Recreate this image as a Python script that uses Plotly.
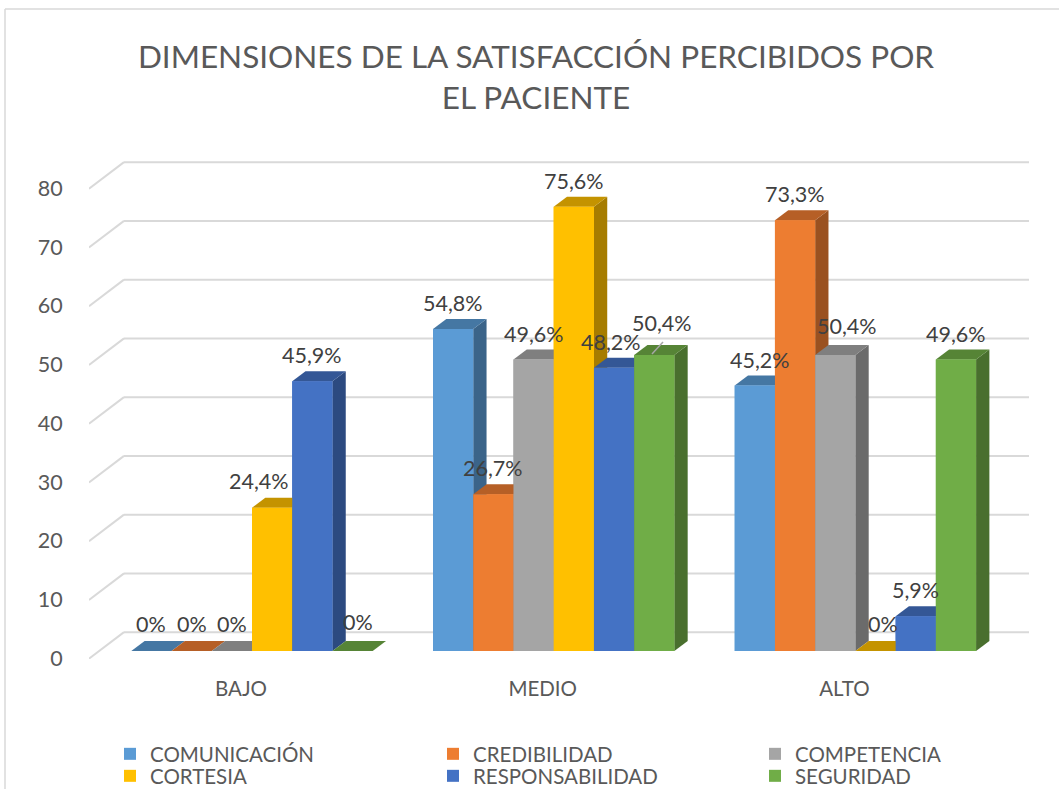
import plotly.graph_objects as go

categories = ['BAJO', 'MEDIO', 'ALTO']
series_names = ['COMUNICACIÓN', 'CREDIBILIDAD', 'COMPETENCIA', 'CORTESIA', 'RESPONSABILIDAD', 'SEGURIDAD']
comunicacion = [0, 54.8, 45.2]
credibilidad = [0, 26.7, 73.3]
competencia = [0, 49.6, 50.4]
cortesia = [24.4, 75.6, 0]
responsabilidad = [45.9, 48.2, 5.9]
seguridad = [0, 50.4, 49.6]
y_ticks = [0, 10, 20, 30, 40, 50, 60, 70, 80]

fronts = ['#5B9BD5', '#ED7D31', '#A5A5A5', '#FFC000', '#4472C4', '#70AD47']
tops = ['#4577A3', '#B65F26', '#7F7F7F', '#C49300', '#345796', '#568436']
sides = ['#3B6489', '#9A5120', '#6B6B6B', '#A67C00', '#2C4A80', '#496F2E']
series = [comunicacion, credibilidad, competencia, cortesia, responsabilidad, seguridad]

# scale of the axes, in pixels
W, H = 1059, 789
PX_X = 301.7
PX_Y = 5.875
X0_PX = 252
Y0_PX = 651
BAR_W = 0.8 / 6
DEPTH_X = 13.3 / PX_X
DEPTH_Y = 10 / PX_Y
FLOOR_X = 35 / PX_X
FLOOR_Y = 26.5 / PX_Y
FRONT_Y = -1.3


def to_x(px):
    return (px - X0_PX) / PX_X


def to_y(px):
    return (Y0_PX - px) / PX_Y


fig = go.Figure()

# one legend per entry, the rows of the original are tighter than a plotly legend
legend_ids = ['legend', 'legend2', 'legend3', 'legend4', 'legend5', 'legend6']
for name, vals, col, lg in zip(series_names, series, fronts, legend_ids):
    fig.add_trace(go.Bar(x=[0, 1, 2], y=vals, name=name, legend=lg, marker=dict(color=col, line=dict(width=0))))

# depth faces, left to right so that later bars cover earlier ones
for s, vals in enumerate(series):
    for g, v in enumerate(vals):
        left = g - 0.4 + s * BAR_W
        right = left + BAR_W
        faces = [
            ([right, right + DEPTH_X, right + DEPTH_X, right], [0, DEPTH_Y, v + DEPTH_Y, v], sides[s]),
            ([left, right, right + DEPTH_X, left + DEPTH_X], [v, v, v + DEPTH_Y, v + DEPTH_Y], tops[s]),
            ([left, right, right, left], [0, 0, v, v], fronts[s]),
        ]
        for fx, fy, col in faces:
            fig.add_trace(go.Scatter(x=fx + fx[:1], y=fy + fy[:1], mode='lines', fill='toself', fillcolor=col,
                                     line=dict(width=0), showlegend=False, hoverinfo='skip'))

# data labels, nudged where the labels were moved by hand
nudges = {(3, 0): (-13, 27), (5, 0): (5, 29), (5, 1): (8, 32), (0, 2): (5, 25), (2, 2): (12, 29),
          (3, 2): (7, 27), (0, 0): (0, 27), (1, 0): (0, 27), (2, 0): (0, 27), (4, 1): (-3, 26)}
for s, vals in enumerate(series):
    for g, v in enumerate(vals):
        dx, dy = nudges.get((s, g), (0, 26))
        text = '0%' if v == 0 else f'{v:.1f}'.replace('.', ',') + '%'
        fig.add_annotation(x=g - 0.4 + (s + 0.5) * BAR_W, y=v, text=text, showarrow=False, xshift=dx, yshift=dy,
                           font=dict(size=21.5, color='#404040'))

shapes = []
for v in y_ticks:
    back_x = to_x(89) + FLOOR_X
    shapes.append(dict(type='line', xref='x', yref='y', layer='below', x0=to_x(89), y0=v + FRONT_Y,
                       x1=back_x, y1=v + FRONT_Y + FLOOR_Y, line=dict(color='#D9D9D9', width=2)))
    shapes.append(dict(type='line', xref='x', yref='y', layer='below', x0=back_x, y0=v + FRONT_Y + FLOOR_Y,
                       x1=to_x(1029), y1=v + FRONT_Y + FLOOR_Y, line=dict(color='#D9D9D9', width=2)))
# leader of the moved 50,4% label
shapes.append(dict(type='line', xref='x', yref='y', x0=to_x(652), y0=to_y(354), x1=to_x(663), y1=to_y(342),
                   line=dict(color='#A6A6A6', width=1.5)))
# chart frame, cut off by the screenshot
shapes.append(dict(type='line', xref='paper', yref='paper', x0=5 / W, y0=1 - 9 / H, x1=1, y1=1 - 9 / H,
                   line=dict(color='#D9D9D9', width=1.5)))
shapes.append(dict(type='line', xref='paper', yref='paper', x0=5 / W, y0=1 - 9 / H, x1=5 / W, y1=0,
                   line=dict(color='#D9D9D9', width=1.5)))

fig.update_layout(
    width=W, height=H, margin=dict(l=0, r=0, t=0, b=0, pad=0, autoexpand=False), autosize=False,
    paper_bgcolor='white', plot_bgcolor='white',
    font=dict(family='Lato', color='#595959', size=20),
    title=dict(text='DIMENSIONES DE LA SATISFACCIÓN PERCIBIDOS POR<br>EL PACIENTE', x=536 / W, xanchor='center',
               y=1 - 68 / H, yanchor='middle', font=dict(size=31.5, color='#595959')),
    barmode='group', bargap=0.2, bargroupgap=0,
    shapes=shapes,
    xaxis=dict(domain=[89 / W, 1029 / W], range=[to_x(89), to_x(1029)], tickvals=[g - 11 / PX_X for g in range(3)],
               ticktext=categories, ticks='outside', ticklen=11, tickcolor='rgba(0,0,0,0)', showgrid=False,
               zeroline=False, showline=False, tickfont=dict(size=20.5)),
    yaxis=dict(domain=[1 - 659 / H, 1 - 150 / H], range=[to_y(659), to_y(150)], tickvals=[v - 1.25 for v in y_ticks],
               ticktext=[str(v) for v in y_ticks], ticks='outside', ticklen=21, tickcolor='rgba(0,0,0,0)',
               showgrid=False, zeroline=False, showline=False, tickfont=dict(size=21.5)),
)

legend_x = [110, 433, 755]
legend_y = [754, 776]
for i, lg in enumerate(legend_ids):
    fig.update_layout({lg: dict(x=legend_x[i % 3] / W, xanchor='left', y=1 - legend_y[i // 3] / H, yanchor='middle',
                                font=dict(size=20.5, color='#595959'), bgcolor='rgba(0,0,0,0)', itemclick=False)})

fig.write_html('out.html', config={'displayModeBar': False},
               post_script="document.body.style.margin='0';document.body.style.overflow='hidden';")
